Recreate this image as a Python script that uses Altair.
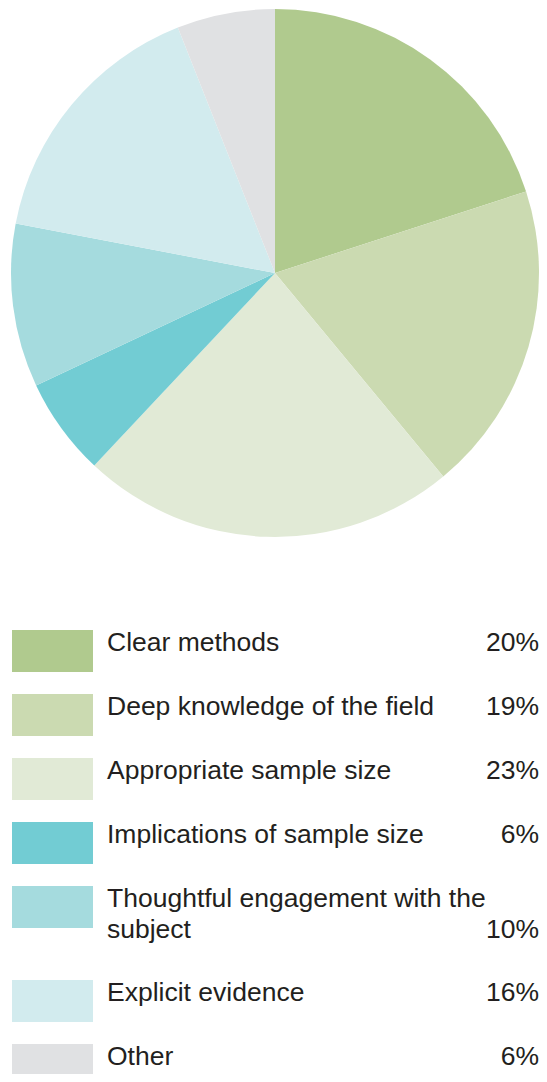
import altair as alt
import pandas as pd

labels = [
    "Clear methods",
    "Deep knowledge of the field",
    "Appropriate sample size",
    "Implications of sample size",
    "Thoughtful engagement with the\nsubject",
    "Explicit evidence",
    "Other",
]
values = [20, 19, 23, 6, 10, 16, 6]
colors = ["#b0ca8e", "#cbdab1", "#e1ead6", "#72ccd3", "#a5dbde", "#d2ebee", "#e0e1e3"]

W, H = 531, 1066
FIRST_TOP = 622
ROW_STEP = 64
LINE_H = 31
SW_H = 42
BASE_OFF = 20.5

rows = []
top = FIRST_TOP
for i, (lab, v) in enumerate(zip(labels, values)):
    n = lab.count("\n") + 1
    rows.append({
        "idx": i,
        "label": lab,
        "value": v,
        "pct": f"{v}%",
        "top": top,
        "bottom": top + SW_H,
        "base": top + BASE_OFF,
        "pbase": top + BASE_OFF + LINE_H * (n - 1),
    })
    top += ROW_STEP + (n - 1) * 30
df = pd.DataFrame(rows)

color = alt.Color("label:N", scale=alt.Scale(domain=labels, range=colors), legend=None)
yscale = alt.Scale(domain=[0, H], range=[0, H])

pie = alt.Chart(df).mark_arc(outerRadius=264).encode(
    theta=alt.Theta("value:Q", stack=True),
    order=alt.Order("idx:Q"),
    color=color,
    x=alt.value(267),
    y=alt.value(265),
)

swatch = alt.Chart(df).mark_rect().encode(
    x=alt.value(4),
    x2=alt.value(85),
    y=alt.Y("top:Q", scale=yscale, axis=None),
    y2="bottom:Q",
    color=color,
)

text = alt.Chart(df).mark_text(
    align="left", baseline="alphabetic", font="Liberation Sans", fontSize=26.5,
    color="#231f20", lineBreak="\n", lineHeight=LINE_H,
).encode(
    x=alt.value(99),
    y=alt.Y("base:Q", scale=yscale, axis=None),
    text="label:N",
)

pct = alt.Chart(df).mark_text(
    align="right", baseline="alphabetic", font="Liberation Sans", fontSize=26.5,
    color="#231f20",
).encode(
    x=alt.value(531),
    y=alt.Y("pbase:Q", scale=yscale, axis=None),
    text="pct:N",
)

chart = alt.layer(pie, swatch, text, pct).properties(
    width=W, height=H, padding=0, autosize=alt.AutoSizeParams(type="none")
).configure_view(stroke=None)

chart.save("out.html", embed_options={"renderer": "svg", "actions": False})
